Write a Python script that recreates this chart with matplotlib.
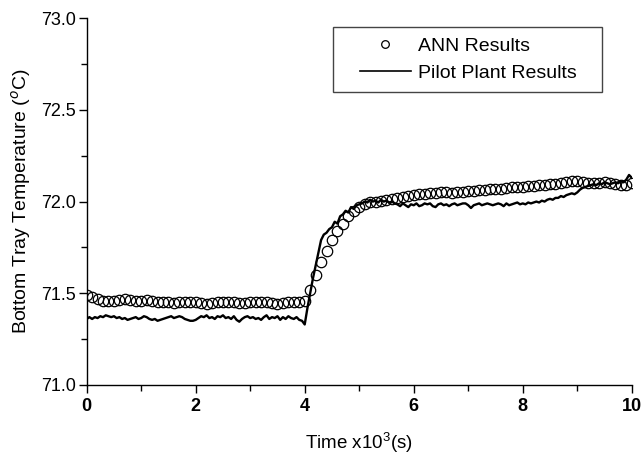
import numpy as np
import matplotlib
matplotlib.use("Agg")
import matplotlib.pyplot as plt
from matplotlib.lines import Line2D
from matplotlib.patches import Rectangle
from matplotlib.ticker import MultipleLocator

# ANN predictions, one point every 0.1 x10^3 s
ann_temp = [
    71.49, 71.48, 71.47, 71.46, 71.46, 71.46, 71.465, 71.47, 71.465, 71.46,
    71.46, 71.465, 71.46, 71.455, 71.45, 71.45, 71.445, 71.45, 71.455, 71.45,
    71.45, 71.445, 71.44, 71.445, 71.45, 71.45, 71.455, 71.45, 71.445, 71.445,
    71.45, 71.455, 71.45, 71.45, 71.445, 71.44, 71.445, 71.45, 71.45, 71.455,
    71.46, 71.52, 71.60, 71.67, 71.73, 71.79, 71.84, 71.88, 71.92, 71.95,
    71.97, 71.985, 71.995, 72.00, 72.005, 72.01, 72.015, 72.02, 72.025, 72.03,
    72.035, 72.04, 72.04, 72.045, 72.045, 72.05, 72.05, 72.045, 72.05, 72.05,
    72.055, 72.06, 72.065, 72.065, 72.07, 72.07, 72.07, 72.075, 72.08, 72.08,
    72.08, 72.085, 72.085, 72.09, 72.09, 72.095, 72.095, 72.10, 72.105, 72.11,
    72.11, 72.105, 72.10, 72.10, 72.10, 72.105, 72.10, 72.095, 72.09, 72.09,
    72.10,
]

# pilot plant measurements, one point every 0.05 x10^3 s
pilot_temp = [
    71.36, 71.37, 71.36, 71.37, 71.365, 71.375, 71.37, 71.38, 71.375, 71.37,
    71.375, 71.365, 71.37, 71.36, 71.365, 71.355, 71.36, 71.365, 71.37, 71.36,
    71.365, 71.375, 71.37, 71.36, 71.355, 71.36, 71.35, 71.355, 71.36, 71.365,
    71.37, 71.375, 71.365, 71.37, 71.375, 71.37, 71.36, 71.355, 71.35, 71.35,
    71.355, 71.365, 71.375, 71.37, 71.38, 71.365, 71.37, 71.36, 71.375, 71.37,
    71.38, 71.365, 71.37, 71.36, 71.375, 71.355, 71.345, 71.36, 71.37, 71.375,
    71.365, 71.37, 71.36, 71.365, 71.355, 71.37, 71.38, 71.36, 71.37, 71.365,
    71.375, 71.355, 71.37, 71.36, 71.375, 71.365, 71.36, 71.37, 71.355, 71.35,
    71.33, 71.42, 71.50, 71.58, 71.65, 71.72, 71.79, 71.82, 71.83, 71.85,
    71.86, 71.89, 71.88, 71.92, 71.93, 71.95, 71.94, 71.97, 71.96, 71.98,
    71.985, 71.99, 72.00, 71.995, 72.01, 72.00, 72.005, 71.995, 72.01, 72.00,
    72.005, 71.995, 72.00, 71.99, 71.985, 71.975, 71.99, 71.98, 71.97, 71.985,
    71.98, 71.99, 71.975, 71.98, 71.99, 71.985, 71.99, 71.975, 71.97, 71.985,
    71.99, 71.98, 71.985, 71.975, 71.985, 71.99, 71.98, 71.985, 71.99, 71.99,
    71.98, 71.965, 71.98, 71.985, 71.99, 71.98, 71.985, 71.99, 71.985, 71.98,
    71.985, 71.99, 71.985, 71.975, 71.99, 71.98, 71.985, 71.99, 71.995, 71.985,
    71.99, 71.985, 71.995, 71.99, 71.995, 72.00, 71.995, 72.005, 72.00, 72.01,
    72.015, 72.01, 72.02, 72.02, 72.03, 72.025, 72.035, 72.04, 72.045, 72.04,
    72.05, 72.065, 72.075, 72.08, 72.085, 72.09, 72.095, 72.09, 72.10, 72.095,
    72.105, 72.10, 72.095, 72.10, 72.105, 72.10, 72.11, 72.105, 72.12, 72.145,
    72.13,
]

ann_time = np.linspace(0, 10, len(ann_temp))
pilot_time = np.linspace(0, 10, len(pilot_temp))

plt.rcParams['font.family'] = ['Liberation Sans', 'DejaVu Sans']
plt.rcParams['mathtext.fontset'] = 'custom'
plt.rcParams['mathtext.rm'] = 'Liberation Sans'

fig = plt.figure(figsize=(6.44, 4.54), dpi=100)
ax = fig.add_axes([0.1346, 0.152, 0.8464, 0.808])

ax.plot(pilot_time, pilot_temp, color='black', linewidth=1.7, zorder=2)
ax.plot(ann_time, ann_temp, linestyle='none', marker='o', markersize=7.5,
        markerfacecolor='none', markeredgecolor='black', markeredgewidth=0.9,
        zorder=3)

ax.set_xlim(0, 10)
ax.set_ylim(71.0, 73.0)
ax.xaxis.set_major_locator(MultipleLocator(2))
ax.xaxis.set_minor_locator(MultipleLocator(1))
ax.yaxis.set_major_locator(MultipleLocator(0.5))
ax.yaxis.set_minor_locator(MultipleLocator(0.25))
ax.yaxis.set_major_formatter(plt.FormatStrFormatter('%.1f'))

ax.spines['top'].set_visible(False)
ax.spines['right'].set_visible(False)
ax.spines['left'].set_linewidth(1.0)
ax.spines['bottom'].set_linewidth(1.0)
ax.tick_params(which='major', direction='out', length=6, width=1.0, labelsize=13)
ax.tick_params(axis='y', which='major', pad=1.5)
ax.tick_params(which='minor', direction='out', length=4, width=1.0)
for lbl in ax.get_xticklabels():
    lbl.set_fontweight('bold')

ax.set_xlabel("Time x10$^3$(s)", fontsize=13.5, labelpad=11)
ax.set_ylabel("Bottom Tray Temperature ($^o$C)", fontsize=14, labelpad=6)

# legend box drawn separately so its padding can match the original
ax.add_patch(Rectangle((0.452, 0.798), 0.4935, 0.1775, transform=ax.transAxes,
                       facecolor='white', edgecolor='#444444', linewidth=1.0,
                       zorder=4))
handles = [
    Line2D([], [], linestyle='none', marker='o', markersize=5.5,
           markerfacecolor='none', markeredgecolor='black', markeredgewidth=0.9),
    Line2D([], [], color='black', linewidth=1.2),
]
leg = ax.legend(handles, ["ANN Results", "Pilot Plant Results"],
                loc='upper left', bbox_to_anchor=(0.5014, 0.948),
                fontsize=14, frameon=False, borderpad=0, borderaxespad=0,
                handlelength=2.6, handletextpad=0.36, labelspacing=0.48)
leg.set_zorder(5)

fig.savefig("out.png", dpi=100)
